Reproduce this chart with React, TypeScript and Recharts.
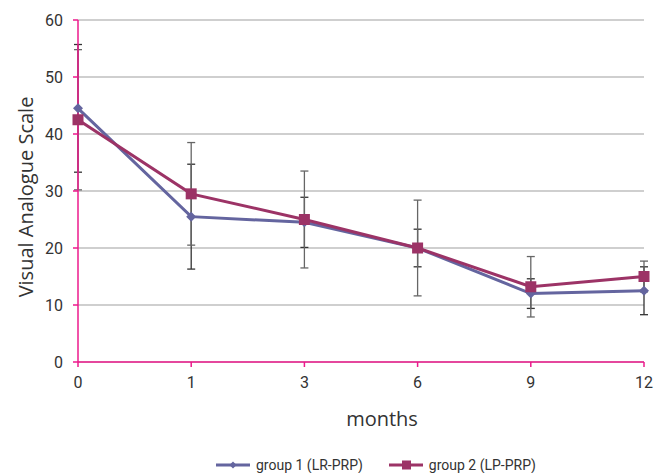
import { LineChart, Line, XAxis, YAxis, CartesianGrid, Legend, ErrorBar } from "recharts";

const months = ['0', '1', '3', '6', '9', '12'];
const group1 = [44.5, 25.5, 24.5, 20, 12, 12.5];
const group1Err = [11.2, 9.2, 4.4, 3.3, 2.6, 4.2];
const group2 = [42.5, 29.5, 25, 20, 13.2, 15];
const group2Err = [12.3, 9, 8.5, 8.4, 5.3, 2.7];
const yTicks = [0, 10, 20, 30, 40, 50, 60];

const seriesNames = ['group 1 (LR-PRP)', 'group 2 (LP-PRP)'];
const BLUE = '#64659f';
const MAROON = '#9c3366';
const PINK = '#ec1a8c';

const data = months.map((m, i) => ({
  month: m,
  g1: group1[i],
  e1: group1Err[i],
  g2: group2[i],
  e2: group2Err[i],
}));

const Diamond = (props: any) => {
  const { cx, cy, fill } = props;
  if (cx == null || cy == null) return null;
  const r = 5;
  return <polygon points={`${cx},${cy - r} ${cx + r},${cy} ${cx},${cy + r} ${cx - r},${cy}`} fill={fill} />;
};

const Square = (props: any) => {
  const { cx, cy, fill } = props;
  if (cx == null || cy == null) return null;
  const s = 5.5;
  return <rect x={cx - s} y={cy - s} width={s * 2} height={s * 2} fill={fill} />;
};

const YLabel = (props: any) => {
  const { viewBox } = props;
  const cy = viewBox.y + viewBox.height / 2 + 6;
  return (
    <text x={25} y={cy} transform={`rotate(-90 25 ${cy})`} textAnchor="middle" dominantBaseline="central"
      fontFamily="Open Sans" fontSize={20} fill="#333">
      Visual Analogue Scale
    </text>
  );
};

const XLabel = (props: any) => {
  const { viewBox } = props;
  return (
    <text x={viewBox.x + viewBox.width / 2 + 21} y={viewBox.y + 64} textAnchor="middle"
      fontFamily="Open Sans" fontSize={20} fill="#333">
      months
    </text>
  );
};

const CustomLegend = () => (
  <div style={{ display: 'flex', paddingLeft: 216, paddingTop: 11, fontFamily: 'Roboto', fontSize: 14, color: '#333', lineHeight: '14px' }}>
    <div style={{ display: 'flex', alignItems: 'center' }}>
      <svg width={34} height={10}>
        <line x1={0} y1={5} x2={34} y2={5} stroke={BLUE} strokeWidth={3} />
        <polygon points="17,1.5 20.5,5 17,8.5 13.5,5" fill={BLUE} />
      </svg>
      <span style={{ marginLeft: 6 }}>{seriesNames[0]}</span>
    </div>
    <div style={{ display: 'flex', alignItems: 'center', marginLeft: 26 }}>
      <svg width={34} height={10}>
        <line x1={0} y1={5} x2={34} y2={5} stroke={MAROON} strokeWidth={3} />
        <rect x={13} y={0.5} width={9} height={9} fill={MAROON} />
      </svg>
      <span style={{ marginLeft: 6 }}>{seriesNames[1]}</span>
    </div>
  </div>
);

const tickStyle = { fill: '#333', fontSize: 16, fontFamily: 'Roboto' };

const App = () => {
  return (
    <div style={{ position: 'absolute', left: 0, top: 0, width: 662, height: 473, background: '#fff' }}>
      <LineChart width={662} height={473} data={data} margin={{ top: 20, right: 18, left: 0, bottom: 0 }}>
        <CartesianGrid vertical={false} stroke="#bfbfbf" strokeWidth={1.5} />
        <XAxis dataKey="month" height={85} stroke={PINK} strokeWidth={1.5} tickSize={5}
          tick={tickStyle} tickMargin={10} label={<XLabel />} />
        <YAxis width={78} domain={[0, 60]} ticks={yTicks} stroke={PINK} strokeWidth={1.5} tickSize={5}
          tick={tickStyle} tickMargin={10} label={<YLabel />} />
        <Legend verticalAlign="bottom" height={26} content={<CustomLegend />} />
        <Line dataKey="g1" name={seriesNames[0]} stroke={BLUE} strokeWidth={3} fill={BLUE}
          dot={<Diamond fill={BLUE} />} activeDot={false} isAnimationActive={false}>
          <ErrorBar dataKey="e1" width={4} stroke="#333" strokeWidth={1.3} direction="y" isAnimationActive={false} />
        </Line>
        <Line dataKey="g2" name={seriesNames[1]} stroke={MAROON} strokeWidth={3} fill={MAROON}
          dot={<Square fill={MAROON} />} activeDot={false} isAnimationActive={false}>
          <ErrorBar dataKey="e2" width={4} stroke="#666" strokeWidth={1.3} direction="y" isAnimationActive={false} />
        </Line>
      </LineChart>
    </div>
  );
};

export default App;
